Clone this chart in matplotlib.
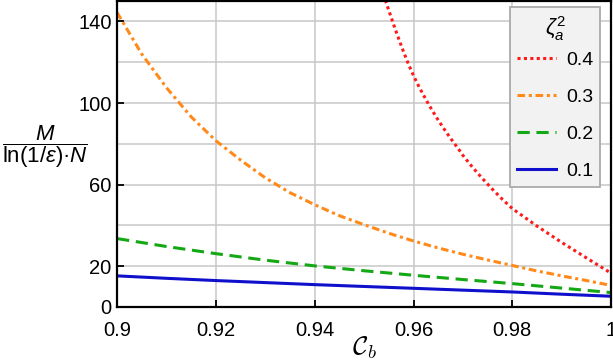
import numpy as np
import matplotlib
matplotlib.use("Agg")
import matplotlib.pyplot as plt

plt.rcParams['font.family'] = ['Liberation Sans', 'DejaVu Sans']
plt.rcParams['mathtext.fontset'] = 'custom'
plt.rcParams['mathtext.rm'] = 'Liberation Sans'
plt.rcParams['mathtext.it'] = 'Liberation Sans:italic'

# values
cb_red = [0.9543, 0.955, 0.956, 0.957, 0.958, 0.959, 0.96, 0.961, 0.962, 0.963, 0.964,
          0.965, 0.966, 0.967, 0.968, 0.969, 0.97, 0.972, 0.974, 0.976, 0.978, 0.98,
          0.985, 0.99, 0.995, 1.0]
m_red = [150.4, 145.4, 138.3, 131.5, 125.0, 118.9, 113.4, 108.5, 103.9, 99.6, 95.5,
         91.6, 87.9, 84.4, 81.0, 77.8, 74.3, 68.3, 62.8, 57.6, 52.7, 48.2,
         39.6, 31.6, 24.0, 16.5]

cb_orange = [0.9, 0.905, 0.91, 0.915, 0.92, 0.925, 0.93, 0.935, 0.94, 0.945, 0.95,
             0.955, 0.96, 0.965, 0.97, 0.975, 0.98, 0.985, 0.99, 0.995, 1.0]
m_orange = [144.4, 124.0, 107.5, 93.2, 81.5, 72.0, 63.3, 56.0, 50.1, 44.7, 40.3,
            36.1, 32.3, 28.9, 25.8, 23.0, 20.3, 17.6, 15.2, 12.9, 10.5]

cb_grid = [0.9, 0.91, 0.92, 0.93, 0.94, 0.95, 0.96, 0.97, 0.98, 0.99, 1.0]
m_green = [33.5, 29.6, 26.1, 22.9, 20.1, 17.7, 15.5, 13.4, 11.4, 9.2, 7.0]
m_blue = [15.2, 14.0, 12.9, 11.9, 10.9, 10.0, 9.1, 8.2, 7.3, 6.2, 5.2]

legend_labels = ["0.4", "0.3", "0.2", "0.1"]
xtick_vals = [0.9, 0.92, 0.94, 0.96, 0.98, 1.0]
xtick_labels = ["0.9", "0.92", "0.94", "0.96", "0.98", "1"]
ytick_vals = [0, 20, 60, 100, 140]

fig = plt.figure(figsize=(6.13, 3.64), dpi=100)
ax = fig.add_axes([0.191, 0.157, 0.806, 0.840])

ax.plot(cb_red, m_red, color='#ff1a1a', lw=2.2, linestyle=(0, (1, 1.1)), label=legend_labels[0])
ax.plot(cb_orange, m_orange, color='#ff8a1a', lw=2.2, linestyle=(0, (2.5, 1.2, 1, 1.2)), label=legend_labels[1])
ax.plot(cb_grid, m_green, color='#14a814', lw=2.2, linestyle=(0, (4, 2.2)), label=legend_labels[2])
ax.plot(cb_grid, m_blue, color='#1010cc', lw=2.2, label=legend_labels[3])

ax.set_xlim(0.9, 1.0)
ax.set_ylim(0, 150)
ax.set_xticks(xtick_vals)
ax.set_xticklabels(xtick_labels)
ax.set_yticks(ytick_vals)
ax.set_yticks([40, 80, 120], minor=True)
ax.tick_params(which='major', direction='in', length=5, width=1.3, labelsize=14.5)
ax.tick_params(axis='x', pad=10)
ax.tick_params(axis='y', pad=4)
ax.tick_params(which='minor', length=0)
ax.grid(True, which='both', color='#c8c8c8', lw=1.1)
ax.set_axisbelow(True)
for sp in ax.spines.values():
    sp.set_linewidth(1.6)

ax.set_xlabel(r'$\mathcal{C}_b$', fontsize=19, math_fontfamily='cm', labelpad=-4)
ax.set_ylabel('$\\dfrac{M}{\\mathrm{ln}(1/\\varepsilon)\u00b7N}$', fontsize=16, rotation=0, ha='center', va='center')
ax.yaxis.set_label_coords(-0.146, 0.525)

leg = ax.legend(title=r'$\zeta_a^2$', loc='upper right', bbox_to_anchor=(0.985, 0.993),
                fontsize=14, title_fontsize=15.5, frameon=True, fancybox=False,
                handlelength=2.0, handletextpad=0.5, labelspacing=1.0, borderpad=0.35,
                borderaxespad=0.2)
leg._legend_box.sep = 6
leg.get_frame().set_facecolor('#f2f2f2')
leg.get_frame().set_edgecolor('#aaaaaa')
leg.get_frame().set_linewidth(1.3)
leg.get_frame().set_alpha(1)

fig.savefig("out.png", dpi=100)
